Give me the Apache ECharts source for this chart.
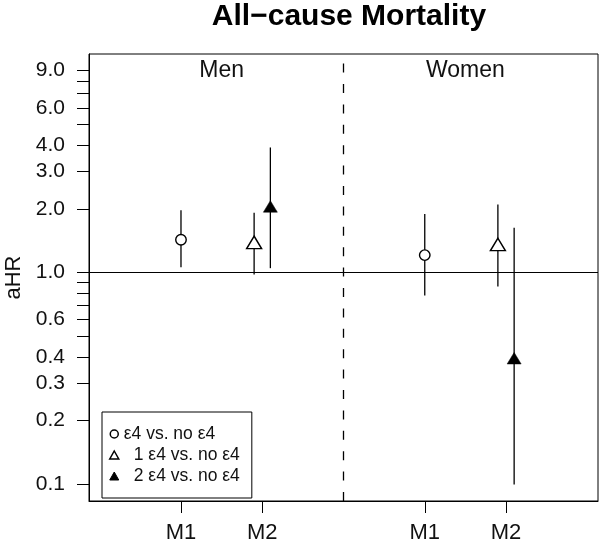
<!DOCTYPE html>
<html><head><meta charset="utf-8">
<script src="https://cdn.jsdelivr.net/npm/echarts@6/dist/echarts.min.js"></script>
<style>html,body{margin:0;padding:0;background:#fff}#c{width:600px;height:540px}</style>
</head><body><div id="c"></div>
<script>
// ---- data ----
const chartTitle = 'All\u2212cause Mortality';
const panelNames = ['Men', 'Women'];
const panelCenters = [1.5, 4.5];
const panelLabelY = 9;
const xTickPositions = [1, 2, 4, 5];
const xTickLabels = ['M1', 'M2', 'M1', 'M2'];
const dividerX = 3;
const refHR = 1;
const yLabelValues = [0.1, 0.2, 0.3, 0.4, 0.6, 1, 2, 3, 4, 6, 9];
const yLabelTexts = ['0.1', '0.2', '0.3', '0.4', '0.6', '1.0', '2.0', '3.0', '4.0', '6.0', '9.0'];
const yMinorTicks = [0.5, 0.7, 0.8, 0.9, 5, 7, 8];
const seriesNames = ['\u03b54 vs. no \u03b54', '1 \u03b54 vs. no \u03b54', '2 \u03b54 vs. no \u03b54'];
const anyE4_x = [1, 4];
const anyE4_hr = [1.43, 1.21];
const anyE4_lo = [1.06, 0.78];
const anyE4_hi = [1.97, 1.89];
const oneE4_x = [1.9, 4.9];
const oneE4_hr = [1.36, 1.33];
const oneE4_lo = [0.98, 0.86];
const oneE4_hi = [1.92, 2.10];
const twoE4_x = [2.1, 5.1];
const twoE4_hr = [2.01, 0.386];
const twoE4_lo = [1.05, 0.10];
const twoE4_hi = [3.90, 1.63];
const xLim = [0.1, 5.9];
const yLim = [0.1, 9];

// ---- build ----
const L = Math.log10;
const FONT = '"Liberation Sans", Arial, sans-serif';
const TXT = '#111';
const xSpan = xLim[1] - xLim[0];
const xMin = xLim[0] - 0.04 * xSpan, xMax = xLim[1] + 0.04 * xSpan;
const ySpan = L(yLim[1]) - L(yLim[0]);
const yMin = L(yLim[0]) - 0.04 * ySpan, yMax = L(yLim[1]) + 0.04 * ySpan;

function pts(xs, hr) { return xs.map((x, i) => [x, L(hr[i])]); }
function bars(xs, lo, hi) { return xs.map((x, i) => [x, L(lo[i]), L(hi[i])]); }

const errData = [].concat(bars(anyE4_x, anyE4_lo, anyE4_hi), bars(oneE4_x, oneE4_lo, oneE4_hi), bars(twoE4_x, twoE4_lo, twoE4_hi));
const yTickVals = yLabelValues.concat(yMinorTicks).map(L);
const yLabelVals = yLabelValues.map(L);

const chart = echarts.init(document.getElementById('c'), null, {renderer: 'canvas'});
chart.setOption({
  animation: false,
  title: {
    text: chartTitle, left: 344, top: -3, textAlign: 'center',
    textStyle: {fontSize: 30, fontWeight: 'bold', color: '#000', fontFamily: FONT}
  },
  grid: {left: 89, right: 2, top: 54, bottom: 39, show: true, borderColor: '#000', borderWidth: 1,
    backgroundColor: 'transparent', containLabel: false, outerBoundsMode: 'none'},
  xAxis: {
    type: 'value', min: xMin, max: xMax, splitLine: {show: false},
    axisLine: {show: true, onZero: false, lineStyle: {color: '#000', width: 1}},
    axisTick: {show: true, customValues: xTickPositions, length: 12, lineStyle: {color: '#000', width: 1}},
    axisLabel: {
      customValues: xTickPositions, margin: 21, fontSize: 22, color: TXT, fontFamily: FONT,
      formatter: v => { const i = xTickPositions.findIndex(p => Math.abs(p - v) < 1e-6); return i >= 0 ? xTickLabels[i] : ''; }
    }
  },
  yAxis: {
    type: 'value', min: yMin, max: yMax, splitLine: {show: false},
    name: 'aHR', nameLocation: 'middle', nameRotate: 90, nameGap: 63,
    nameTextStyle: {fontSize: 22, color: TXT, fontFamily: FONT},
    axisLine: {show: true, onZero: false, lineStyle: {color: '#000', width: 1}},
    axisTick: {show: true, customValues: yTickVals, length: 12, lineStyle: {color: '#000', width: 1}},
    axisLabel: {
      customValues: yLabelVals, margin: 24, fontSize: 21, color: TXT, fontFamily: FONT,
      formatter: v => { const i = yLabelVals.findIndex(p => Math.abs(p - v) < 1e-6); return i >= 0 ? yLabelTexts[i] : ''; }
    }
  },
  legend: {
    orient: 'vertical', left: 102, top: 412, itemWidth: 9, itemHeight: 8, itemGap: 3,
    padding: [13, 12, 13, 7], borderColor: '#000', borderWidth: 1, backgroundColor: '#fff',
    textStyle: {fontSize: 17.5, color: TXT, fontFamily: FONT},
    data: [
      {name: seriesNames[0], icon: 'circle', itemStyle: {color: '#fff', borderColor: '#000', borderWidth: 1.5}},
      {name: seriesNames[1], icon: 'triangle', itemStyle: {color: '#fff', borderColor: '#000', borderWidth: 1.5}, textStyle: {padding: [0, 0, 0, 10]}},
      {name: seriesNames[2], icon: 'triangle', itemStyle: {color: '#000', borderColor: '#000', borderWidth: 1}, textStyle: {padding: [0, 0, 0, 10]}}
    ]
  },
  series: [
    {
      type: 'custom', name: 'ci', silent: true, z: 2,
      encode: {x: 0, y: [1, 2]},
      data: errData,
      renderItem: (params, api) => {
        const p1 = api.coord([api.value(0), api.value(1)]);
        const p2 = api.coord([api.value(0), api.value(2)]);
        return {type: 'line', shape: {x1: p1[0], y1: p1[1], x2: p2[0], y2: p2[1]}, style: {stroke: '#000', lineWidth: 1.3}};
      },
      markLine: {
        silent: true, symbol: 'none', label: {show: false}, animation: false,
        data: [
          [{coord: [dividerX, yMin]}, {coord: [dividerX, yMax], lineStyle: {type: [9, 11.4], color: '#000', width: 1.3}}],
          [{coord: [xMin, L(refHR)]}, {coord: [xMax, L(refHR)], lineStyle: {type: 'solid', color: '#000', width: 1}}]
        ]
      }
    },
    {
      type: 'scatter', name: seriesNames[0], z: 5, data: pts(anyE4_x, anyE4_hr),
      symbol: 'circle', symbolSize: 10.5,
      itemStyle: {color: '#fff', borderColor: '#000', borderWidth: 1.4, opacity: 1}
    },
    {
      type: 'scatter', name: seriesNames[1], z: 5, data: pts(oneE4_x, oneE4_hr),
      symbol: 'triangle', symbolSize: [15, 12.5], symbolOffset: [0, -2],
      itemStyle: {color: '#fff', borderColor: '#000', borderWidth: 1.4, opacity: 1}
    },
    {
      type: 'scatter', name: seriesNames[2], z: 5, data: pts(twoE4_x, twoE4_hr),
      symbol: 'triangle', symbolSize: [14, 11.5], symbolOffset: [0, -2],
      itemStyle: {color: '#000', borderColor: '#000', borderWidth: 0.5, opacity: 1}
    },
    {
      type: 'scatter', name: 'panels', silent: true, z: 6,
      data: panelCenters.map(x => [x, L(panelLabelY)]),
      symbolSize: 0, itemStyle: {opacity: 1},
      label: {show: true, position: 'inside', fontSize: 23, color: '#111', opacity: 1, fontFamily: FONT,
        textBorderWidth: 0, formatter: p => panelNames[p.dataIndex]}
    }
  ]
});
</script>
</body></html>
